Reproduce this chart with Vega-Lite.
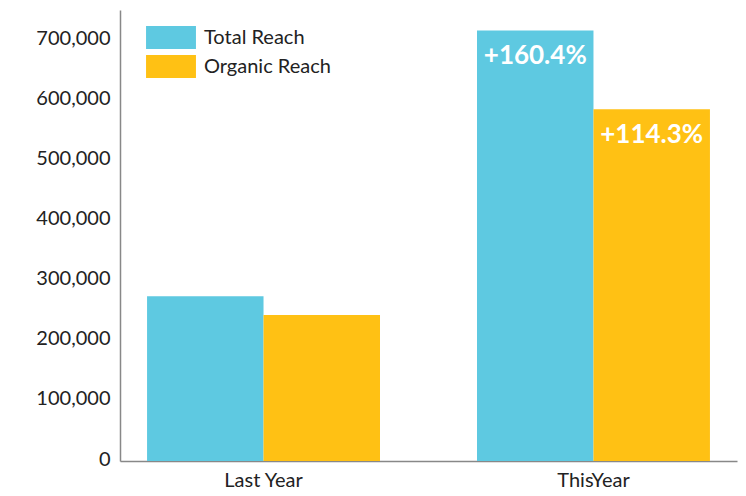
{
  "$schema": "https://vega.github.io/schema/vega-lite/v6.json",
  "width": 617,
  "height": 451,
  "autosize": {"type": "none"},
  "padding": {"left": 120, "top": 10, "right": 9, "bottom": 35},
  "background": "white",
  "config": {
    "font": "Lato",
    "view": {"stroke": null},
    "axis": {"labelFont": "Lato", "labelColor": "#222222", "labelFontSize": 20, "domainColor": "#888888", "domainWidth": 1.5, "ticks": false, "grid": false, "title": null}
  },
  "data": {
    "values": [
      {"period": "Last Year", "series": "Total Reach", "reach": 274000, "label": ""},
      {"period": "Last Year", "series": "Organic Reach", "reach": 243000, "label": ""},
      {"period": "ThisYear", "series": "Total Reach", "reach": 716000, "label": "+160.4%"},
      {"period": "ThisYear", "series": "Organic Reach", "reach": 585000, "label": "+114.3%"}
    ]
  },
  "encoding": {
    "x": {"field": "period", "type": "nominal", "sort": null,
      "scale": {"paddingInner": 0.294, "paddingOuter": 0.082},
      "axis": {"labelAngle": 0, "labelPadding": 9}},
    "xOffset": {"field": "series", "type": "nominal", "sort": ["Total Reach", "Organic Reach"], "scale": {"paddingInner": 0, "paddingOuter": 0}},
    "y": {"field": "reach", "type": "quantitative",
      "scale": {"domain": [0, 750000], "nice": false},
      "axis": {"values": [0, 100000, 200000, 300000, 400000, 500000, 600000, 700000], "format": ",.0f", "labelPadding": 10, "labelOffset": -2}}
  },
  "layer": [
    {
      "mark": {"type": "bar"},
      "encoding": {
        "color": {"field": "series", "type": "nominal", "sort": ["Total Reach", "Organic Reach"],
          "scale": {"domain": ["Total Reach", "Organic Reach"], "range": ["#5ec9e1", "#ffc114"]},
          "legend": {"title": null, "orient": "none", "legendX": 39.5, "legendY": 16,
            "symbolType": "M-2.17,-1H2.17V1H-2.17Z", "symbolSize": 529, "symbolStrokeWidth": 0,
            "symbolOpacity": 1, "labelFont": "Lato", "labelFontSize": 20, "labelColor": "#222222",
            "labelOffset": 21.5, "rowPadding": 6, "padding": 0}}
      }
    },
    {
      "mark": {"type": "text", "color": "white", "font": "Lato", "fontWeight": "bold", "fontSize": 26, "baseline": "alphabetic", "dy": 34},
      "encoding": {"text": {"field": "label"}}
    }
  ]
}
